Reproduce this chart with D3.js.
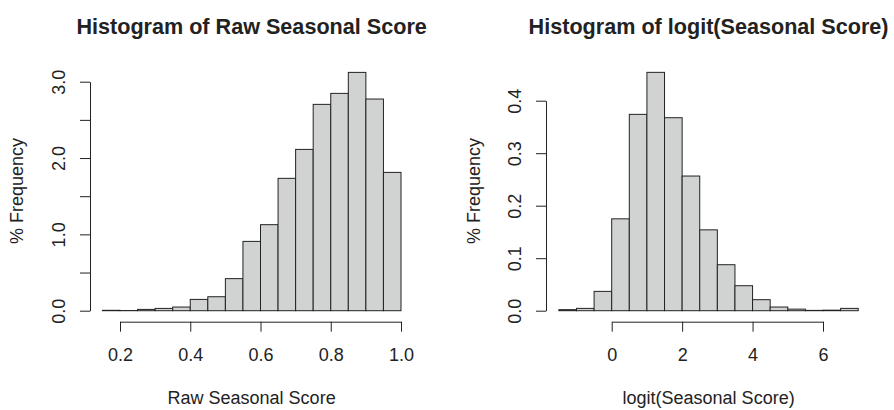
<!DOCTYPE html>
<html>
<head>
<meta charset="utf-8">
<script src="https://cdn.jsdelivr.net/npm/d3@7"></script>
<style>
  body { margin: 0; background: #fff; }
  text { font-family: "Liberation Sans", Arial, sans-serif; fill: #222; }
</style>
</head>
<body>
<div id="chart"></div>
<script>
// bin edges and % frequency
const rawEdges = [0.15, 0.20, 0.25, 0.30, 0.35, 0.40, 0.45, 0.50, 0.55, 0.60,
    0.65, 0.70, 0.75, 0.80, 0.85, 0.90, 0.95, 1.00];
const rawFreq = [0.005, 0.002, 0.017, 0.03, 0.048, 0.148, 0.183, 0.42, 0.908,
    1.127, 1.734, 2.113, 2.703, 2.847, 3.122, 2.773, 1.812];
const rawXTicks = [0.2, 0.4, 0.6, 0.8, 1.0];
const rawYTicks = [0, 0.5, 1, 1.5, 2, 2.5, 3];

const logitEdges = [-1.5, -1, -0.5, 0, 0.5, 1, 1.5, 2, 2.5, 3, 3.5, 4, 4.5, 5,
    5.5, 6, 6.5, 7];
const logitFreq = [0.002, 0.0044, 0.0368, 0.175, 0.374, 0.454, 0.3676, 0.2565,
    0.154, 0.0876, 0.0476, 0.021, 0.007, 0.003, 0.0006, 0.001, 0.0044];
const logitXTicks = [0, 2, 4, 6];
const logitYTicks = [0, 0.1, 0.2, 0.3, 0.4];

const width = 894, height = 410;

const svg = d3.select('#chart')
    .append('svg')
    .attr('width', width)
    .attr('height', height);

const panels = [
    {
        title: 'Histogram of Raw Seasonal Score',
        xlab: 'Raw Seasonal Score',
        edges: rawEdges, freq: rawFreq,
        xTicks: rawXTicks, yTicks: rawYTicks,
        yLabel: d => (d % 1 === 0 ? d3.format('.1f')(d) : ''),
        x: d3.scaleLinear().domain([0.2, 1.0]).range([120, 401]),
        y: d3.scaleLinear().domain([0, 3]).range([310.7, 81.7]),
        yAxisX: 90, center: 251.6, ytitleX: 23
    },
    {
        title: 'Histogram of logit(Seasonal Score)',
        xlab: 'logit(Seasonal Score)',
        edges: logitEdges, freq: logitFreq,
        xTicks: logitXTicks, yTicks: logitYTicks,
        yLabel: d3.format('.1f'),
        x: d3.scaleLinear().domain([0, 6]).range([611.7, 823]),
        y: d3.scaleLinear().domain([0, 0.4]).range([310.7, 100.7]),
        yAxisX: 546, center: 708.6, ytitleX: 480
    }
];

panels.forEach(p => {
    const g = svg.append('g');

    // bars
    g.selectAll('rect')
        .data(p.freq)
        .enter()
        .append('rect')
        .attr('x', (d, i) => p.x(p.edges[i]))
        .attr('width', (d, i) => p.x(p.edges[i + 1]) - p.x(p.edges[i]))
        .attr('y', d => p.y(d))
        .attr('height', d => p.y(0) - p.y(d))
        .style('fill', '#d1d3d2')
        .style('stroke', '#222')
        .style('stroke-width', 1);

    // x axis, line only between first and last tick like R
    const xa = g.append('g')
        .attr('transform', 'translate(0, 321.7)')
        .call(d3.axisBottom(p.x)
            .tickValues(p.xTicks)
            .tickSize(10)
            .tickSizeOuter(0)
            .tickPadding(0)
            .tickFormat(d => (p.xTicks[1] - p.xTicks[0] < 1 ? d3.format('.1f')(d) : d3.format('d')(d))));
    xa.select('.domain').attr('stroke', '#222');
    xa.selectAll('.tick line').attr('stroke', '#222');
    xa.selectAll('.tick text')
        .attr('y', 39)
        .attr('dy', 0)
        .style('font-size', '18px')
        .style('fill', '#222');

    // y axis with rotated labels
    const ya = g.append('g')
        .attr('transform', `translate(${p.yAxisX}, 0)`)
        .call(d3.axisLeft(p.y)
            .tickValues(p.yTicks)
            .tickSize(10)
            .tickSizeOuter(0)
            .tickFormat(p.yLabel));
    ya.select('.domain').attr('stroke', '#222');
    ya.selectAll('.tick line').attr('stroke', '#222');
    ya.selectAll('.tick text')
        .attr('transform', 'rotate(-90)')
        .attr('x', 0)
        .attr('y', -25)
        .attr('dy', 0)
        .attr('text-anchor', 'middle')
        .style('font-size', '18px')
        .style('fill', '#222');

    // titles
    g.append('text')
        .attr('x', p.center)
        .attr('y', 34)
        .attr('text-anchor', 'middle')
        .style('font-size', '21.6px')
        .style('font-weight', 'bold')
        .text(p.title);

    g.append('text')
        .attr('x', p.center)
        .attr('y', 404)
        .attr('text-anchor', 'middle')
        .style('font-size', '18px')
        .text(p.xlab);

    g.append('text')
        .attr('transform', `translate(${p.ytitleX}, 191) rotate(-90)`)
        .attr('text-anchor', 'middle')
        .style('font-size', '18px')
        .text('% Frequency');
});
</script>
</body>
</html>
